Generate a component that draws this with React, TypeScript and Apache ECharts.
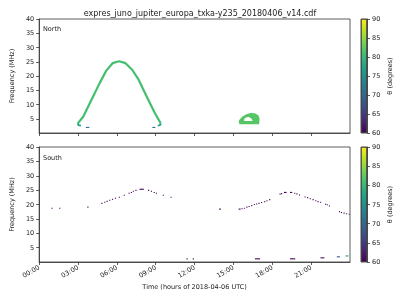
import React, { useEffect, useRef } from "react";
import * as echarts from "echarts";

const TITLE = "expres_juno_jupiter_europa_txka-y235_20180406_v14.cdf";
const HOUR_TICKS = [0, 3, 6, 9, 12, 15, 18, 21];
const FREQ_TICKS = [5, 10, 15, 20, 25, 30, 35, 40];
const THETA_TICKS = [60, 65, 70, 75, 80, 85, 90];

// viridis colour map stops (0 -> 60°, 1 -> 90°)
const VIRIDIS = [
  "#440154", "#482475", "#414487", "#355f8d", "#2a788e", "#21918c",
  "#22a884", "#44bf70", "#7ad151", "#bddf26", "#fde725",
];

// North hemisphere: main arc [hour, MHz]
const northArc = [
  [2.97, 3.3], [3.41, 5.8], [4.04, 11.7], [4.67, 17.5], [5.17, 21.8], [5.67, 24.5],
  [6.17, 25.2], [6.67, 24.5], [7.18, 22.2], [7.68, 18.7], [8.3, 12.8], [8.93, 7.0], [9.38, 3.4],
];
const northArcTheta = 81;
const northHookLeft = [[3.0, 3.4], [3.02, 2.8], [3.22, 2.55]];
const northHookRight = [[9.38, 3.4], [9.36, 2.85], [9.16, 2.55]];
const northHookTheta = 77;
// [start hour, end hour, MHz, theta]
const northDashes = [
  [3.6, 3.87, 1.95, 71],
  [8.74, 8.97, 1.95, 71],
];
// ring-shaped patch near 16h
const blobOuter = [
  [15.4, 3.6], [15.45, 4.6], [15.65, 5.6], [15.95, 6.5], [16.3, 7.0], [16.65, 6.9],
  [16.92, 6.2], [17.02, 5.0], [16.98, 3.1], [15.5, 3.1],
];
const blobHole = [
  [15.82, 4.2], [16.48, 4.2], [16.42, 4.9], [16.2, 5.6], [16.0, 5.55], [15.84, 5.0],
];
const blobTheta = 82;

// South hemisphere: [start hour, end hour, MHz, theta]
const southSegments = [
  [0.95, 1.03, 18.7, 60], [1.55, 1.63, 18.7, 60], [3.72, 3.8, 19.1, 60],
  [4.8, 4.88, 20.4, 60], [5.02, 5.1, 20.8, 60], [5.2, 5.28, 21.1, 60], [5.4, 5.48, 21.5, 60],
  [5.62, 5.7, 21.8, 60], [5.85, 5.93, 22.2, 60], [6.15, 6.23, 22.5, 60], [6.53, 6.61, 23.2, 60],
  [6.9, 6.98, 23.9, 60], [7.08, 7.16, 24.2, 60], [7.23, 7.31, 24.6, 60], [7.43, 7.51, 24.9, 60],
  [7.75, 8.08, 25.3, 60], [8.41, 8.49, 24.9, 60], [8.63, 8.71, 24.6, 60], [8.84, 8.92, 24.2, 60],
  [9.01, 9.09, 23.9, 60], [9.54, 9.62, 23.2, 60], [10.14, 10.22, 22.5, 60],
  [11.38, 11.46, 1.1, 60], [11.86, 11.94, 1.1, 60],
  [13.9, 14.02, 18.4, 60], [15.4, 15.55, 18.4, 60], [15.62, 15.7, 18.5, 60], [15.8, 15.88, 18.7, 60],
  [16.0, 16.08, 19.1, 60], [16.17, 16.25, 19.3, 60], [16.37, 16.45, 19.6, 60], [16.57, 16.65, 20.0, 60],
  [16.75, 16.83, 20.2, 60], [16.93, 17.01, 20.4, 60], [17.13, 17.21, 20.7, 60], [17.38, 17.46, 21.0, 60],
  [17.55, 17.63, 21.3, 60], [17.76, 17.84, 21.7, 60], [18.56, 18.64, 23.6, 60], [18.68, 18.76, 23.8, 60],
  [18.9, 19.1, 24.2, 60], [19.37, 19.54, 24.2, 60], [19.69, 19.77, 23.9, 60], [19.86, 19.94, 23.7, 60],
  [20.06, 20.14, 23.3, 60], [20.49, 20.57, 22.6, 60], [20.69, 20.77, 22.4, 60], [20.89, 20.97, 22.0, 60],
  [21.11, 21.19, 21.7, 60], [21.32, 21.4, 21.3, 60], [21.49, 21.57, 21.0, 60], [21.69, 21.77, 20.8, 60],
  [22.07, 22.15, 20.1, 60], [22.2, 22.28, 19.9, 60], [22.37, 22.45, 19.5, 60], [23.15, 23.23, 17.5, 60],
  [23.3, 23.38, 17.2, 60], [23.5, 23.58, 17.0, 60], [23.7, 23.78, 16.8, 62], [23.9, 23.98, 16.6, 65],
  [16.66, 17.06, 1.1, 60], [19.37, 19.77, 1.1, 60], [21.72, 22.02, 1.45, 61],
  [22.98, 23.23, 1.8, 69], [23.66, 23.88, 2.1, 75],
];

function hexToRgb(h: string) {
  return [parseInt(h.slice(1, 3), 16), parseInt(h.slice(3, 5), 16), parseInt(h.slice(5, 7), 16)];
}
function viridis(theta: number) {
  let t = (theta - 60) / 30;
  t = Math.max(0, Math.min(1, t));
  const pos = t * (VIRIDIS.length - 1);
  const i = Math.min(Math.floor(pos), VIRIDIS.length - 2);
  const f = pos - i;
  const a = hexToRgb(VIRIDIS[i]);
  const b = hexToRgb(VIRIDIS[i + 1]);
  const c = a.map((v, k) => Math.round(v + (b[k] - v) * f));
  return `rgb(${c[0]},${c[1]},${c[2]})`;
}

const FONT = "DejaVu Sans";
const TXT = "#222";
const AX = "#333";

const pad2 = (n: number) => (n < 10 ? "0" + n : "" + n);

function segmentSeries(data: number[][], xi: number) {
  return {
    type: "custom",
    xAxisIndex: xi,
    yAxisIndex: xi,
    data,
    encode: { x: [0, 1], y: 2 },
    renderItem: (params: any, api: any) => {
      const p0 = api.coord([api.value(0), api.value(2)]);
      const p1 = api.coord([api.value(1), api.value(2)]);
      const w = Math.max(p1[0] - p0[0], 1.1);
      const h = 1.1;
      return {
        type: "rect",
        shape: { x: p0[0], y: p0[1] - h / 2, width: w, height: h },
        style: { fill: viridis(api.value(3)) },
      };
    },
  };
}

function polygonSeries(pts: number[][], fill: string, xi: number) {
  return {
    type: "custom",
    xAxisIndex: xi,
    yAxisIndex: xi,
    data: pts,
    encode: { x: 0, y: 1 },
    renderItem: (params: any, api: any) => {
      if (params.dataIndex !== 0) return null;
      return {
        type: "polygon",
        shape: { points: pts.map((p) => api.coord(p)) },
        style: { fill },
      };
    },
  };
}

function lineSeries(pts: number[][], color: string, width: number) {
  return {
    type: "line",
    xAxisIndex: 0,
    yAxisIndex: 0,
    data: pts,
    symbol: "none",
    lineStyle: { color, width },
    silent: true,
  };
}

export default function App() {
  const ref = useRef<HTMLDivElement>(null);
  useEffect(() => {
    if (!ref.current) return;
    const chart = echarts.init(ref.current, undefined, { renderer: "svg" });
    const mainGrids = [
      { left: 31, top: 19, width: 319, height: 114 },
      { left: 31, top: 147, width: 319, height: 115 },
    ];
    const cbGrids = [
      { left: 361, top: 19, width: 6, height: 114 },
      { left: 361, top: 147, width: 6, height: 115 },
    ];
    const grid = [...mainGrids, ...cbGrids].map((g) => ({
      ...g,
      show: true,
      borderColor: AX,
      borderWidth: 0.8,
      backgroundColor: "#fff",
      containLabel: false,
    }));

    const xAxis: any[] = [0, 1].map((i) => ({
      type: "value",
      gridIndex: i,
      min: 0,
      max: 24,
      interval: 3,
      name: i === 1 ? "Time (hours of 2018-04-06 UTC)" : "",
      nameLocation: "middle",
      nameGap: 21,
      nameTextStyle: { fontFamily: FONT, fontSize: 6.5, color: TXT },
      axisLine: { show: true, lineStyle: { color: AX, width: 0.8 } },
      axisTick: {
        show: true,
        length: 3,
        lineStyle: { color: AX, width: 0.8 },
        customValues: HOUR_TICKS,
      },
      splitLine: { show: false },
      axisLabel: {
        show: i === 1,
        customValues: HOUR_TICKS,
        rotate: 30,
        margin: 5,
        fontFamily: FONT,
        fontSize: 6.5,
        color: TXT,
        formatter: (v: number) => pad2(v) + ":00",
      },
    }));
    [2, 3].forEach((g) =>
      xAxis.push({ type: "category", gridIndex: g, data: ["cb"], show: false })
    );

    const yAxis: any[] = [0, 1].map((i) => ({
      type: "value",
      gridIndex: i,
      min: 0,
      max: 40,
      interval: 5,
      name: "Frequency (MHz)",
      nameLocation: "middle",
      nameGap: 18,
      nameRotate: 90,
      nameTextStyle: { fontFamily: FONT, fontSize: 6.5, color: TXT },
      axisLine: { show: true, lineStyle: { color: AX, width: 0.8 } },
      axisTick: {
        show: true,
        length: 3,
        lineStyle: { color: AX, width: 0.8 },
        customValues: FREQ_TICKS,
      },
      splitLine: { show: false },
      axisLabel: {
        customValues: FREQ_TICKS,
        margin: 5,
        fontFamily: FONT,
        fontSize: 6.5,
        color: TXT,
      },
    }));
    [2, 3].forEach((g) =>
      yAxis.push({
        type: "value",
        gridIndex: g,
        position: "right",
        min: 60,
        max: 90,
        interval: 5,
        name: "θ (degrees)",
        nameLocation: "middle",
        nameGap: 19,
        nameRotate: 90,
        nameTextStyle: { fontFamily: FONT, fontSize: 6.5, color: TXT },
        axisLine: { show: true, lineStyle: { color: AX, width: 0.8 } },
        axisTick: { show: true, length: 3, lineStyle: { color: AX, width: 0.8 } },
        splitLine: { show: false },
        axisLabel: {
          margin: 5,
          fontFamily: FONT,
          fontSize: 6.5,
          color: TXT,
          customValues: THETA_TICKS,
        },
      })
    );

    const gradient = {
      type: "linear",
      x: 0,
      y: 0,
      x2: 0,
      y2: 1,
      colorStops: VIRIDIS.slice()
        .reverse()
        .map((c, k) => ({ offset: k / (VIRIDIS.length - 1), color: c })),
    };

    const cbSeries: any[] = [];
    [2, 3].forEach((g) => {
      cbSeries.push({
        type: "bar",
        xAxisIndex: g,
        yAxisIndex: g,
        stack: "cb" + g,
        data: [THETA_TICKS[0]],
        barWidth: "100%",
        itemStyle: { color: "rgba(0,0,0,0)" },
        silent: true,
      });
      cbSeries.push({
        type: "bar",
        xAxisIndex: g,
        yAxisIndex: g,
        stack: "cb" + g,
        data: [THETA_TICKS[THETA_TICKS.length - 1] - THETA_TICKS[0]],
        barWidth: "100%",
        itemStyle: { color: gradient, borderColor: AX, borderWidth: 0.8 },
        silent: true,
      });
    });

    chart.setOption({
      animation: false,
      title: {
        text: TITLE,
        left: "center",
        top: 4,
        textStyle: { fontFamily: FONT, fontSize: 8, fontWeight: "normal", color: TXT },
      },
      grid,
      xAxis,
      yAxis,
      graphic: [
        {
          type: "text",
          left: 43,
          top: 25,
          style: { text: "North", fontFamily: FONT, fontSize: 6.5, fill: TXT },
        },
        {
          type: "text",
          left: 43,
          top: 154,
          style: { text: "South", fontFamily: FONT, fontSize: 6.5, fill: TXT },
        },
      ],
      series: [
        lineSeries(northArc, viridis(northArcTheta), 2.2),
        lineSeries(northHookLeft, viridis(northHookTheta), 1.8),
        lineSeries(northHookRight, viridis(northHookTheta), 1.8),
        segmentSeries(northDashes, 0),
        polygonSeries(blobOuter, viridis(blobTheta), 0),
        polygonSeries(blobHole, "#fff", 0),
        segmentSeries(southSegments, 1),
        ...cbSeries,
      ],
    });
    return () => chart.dispose();
  }, []);
  return (
    <div
      ref={ref}
      style={{ position: "fixed", left: 0, top: 0, width: 400, height: 300 }}
    />
  );
}
